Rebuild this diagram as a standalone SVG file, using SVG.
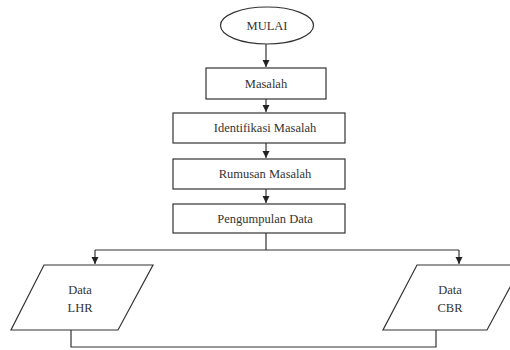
<svg xmlns="http://www.w3.org/2000/svg" width="510" height="350" viewBox="0 0 510 350">
<defs>
<marker id="ah" markerWidth="8" markerHeight="8" refX="7" refY="4" orient="auto" markerUnits="userSpaceOnUse">
<path d="M0,0.5 L7,4 L0,7.5 Z" fill="#222"/>
</marker>
<style>
.s{fill:#fff;stroke:#333;stroke-width:1.2}
.c{fill:none;stroke:#333;stroke-width:1.2}
.t{font-family:"Liberation Serif","Times New Roman",serif;font-size:12.5px;fill:#333;text-anchor:middle}
</style>
</defs>
<rect width="510" height="350" fill="#fff"/>
<g id="connectors">
<path class="c" d="M266,44 V67" marker-end="url(#ah)"/>
<path class="c" d="M266,99 V112" marker-end="url(#ah)"/>
<path class="c" d="M266,143 V158" marker-end="url(#ah)"/>
<path class="c" d="M266,189 V203" marker-end="url(#ah)"/>
<path class="c" d="M266,233 V250 M95,250 H459"/>
<path class="c" d="M95,250 V264" marker-end="url(#ah)"/>
<path class="c" d="M459,250 V264" marker-end="url(#ah)"/>
<path class="c" d="M71,330 V347 H436 V330"/>
</g>
<g id="mulai">
<ellipse class="s" cx="267" cy="25.5" rx="46.5" ry="18.5"/>
<text class="t" x="267" y="30">MULAI</text>
</g>
<g id="masalah">
<rect class="s" x="206" y="68" width="120" height="31"/>
<text class="t" x="266" y="88">Masalah</text>
</g>
<g id="identifikasi">
<rect class="s" x="173" y="113" width="172" height="30"/>
<text class="t" x="265" y="132">Identifikasi Masalah</text>
</g>
<g id="rumusan">
<rect class="s" x="173" y="159" width="172" height="30"/>
<text class="t" x="265" y="178">Rumusan Masalah</text>
</g>
<g id="pengumpulan">
<rect class="s" x="173" y="204" width="172" height="29"/>
<text class="t" x="265" y="223">Pengumpulan Data</text>
</g>
<g id="data-lhr">
<polygon class="s" points="44,265 153,265 118,330 11,330"/>
<text class="t" x="80" y="294">Data</text>
<text class="t" x="80" y="312">LHR</text>
</g>
<g id="data-cbr">
<polygon class="s" points="417,265 522,265 487,330 383,330"/>
<text class="t" x="450" y="294">Data</text>
<text class="t" x="450" y="312">CBR</text>
</g>
</svg>
